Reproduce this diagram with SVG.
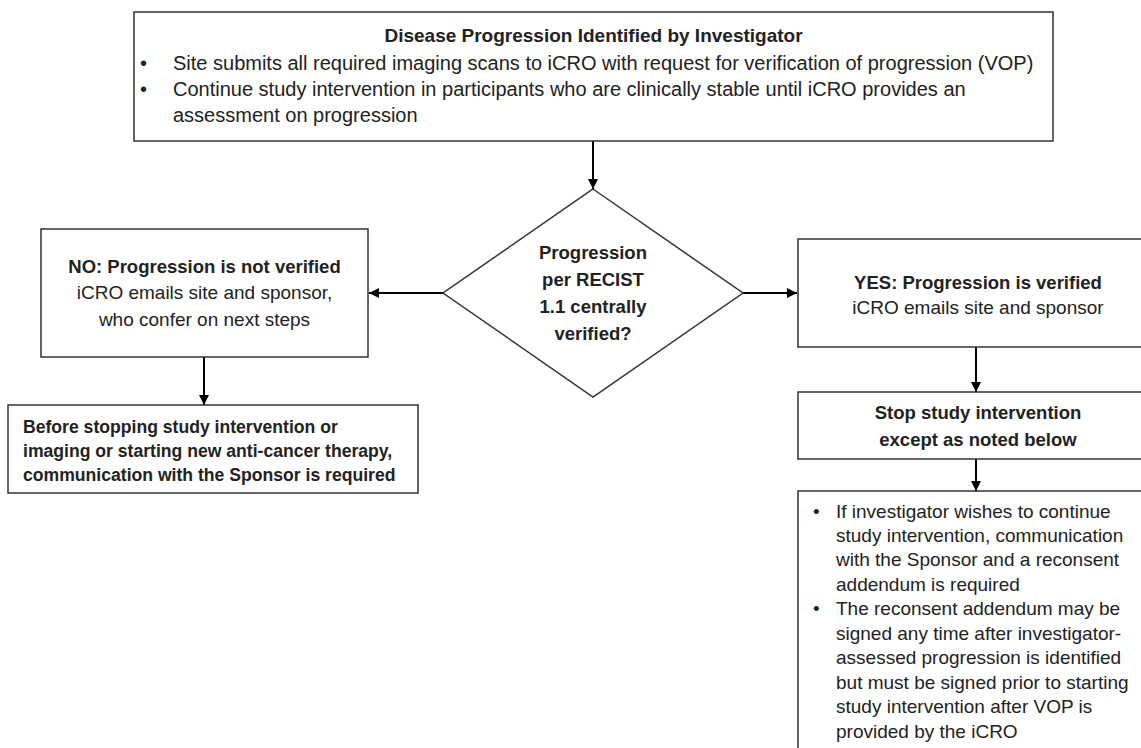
<svg xmlns="http://www.w3.org/2000/svg" width="1141" height="748" viewBox="0 0 1141 748">
<style>
.box{fill:#fff;stroke:#333;stroke-width:1.5}
.t{font-family:"Liberation Sans",Arial,sans-serif;font-size:19px;fill:#222}
.b{font-weight:bold;font-size:18.5px}
.top{font-size:20px}
.sm{font-size:17.6px}
.c{text-anchor:middle}
.con{stroke:#000;stroke-width:2;fill:none}
</style>
<defs>
<marker id="ah" markerUnits="userSpaceOnUse" markerWidth="10" markerHeight="10" refX="10" refY="5" orient="auto">
<path d="M0,0 L10,5 L0,10 z" fill="#000"/>
</marker>
</defs>
<rect width="1141" height="748" fill="#fff"/>
<g id="connectors">
<line class="con" x1="593" y1="141" x2="593" y2="189" marker-end="url(#ah)"/>
<line class="con" x1="443" y1="293" x2="369" y2="293" marker-end="url(#ah)"/>
<line class="con" x1="743" y1="293" x2="797" y2="293" marker-end="url(#ah)"/>
<line class="con" x1="204" y1="357" x2="204" y2="405" marker-end="url(#ah)"/>
<line class="con" x1="976" y1="347" x2="976" y2="392" marker-end="url(#ah)"/>
<line class="con" x1="976" y1="459" x2="976" y2="491" marker-end="url(#ah)"/>
</g>
<g id="start">
<rect class="box" x="134" y="12" width="919" height="129"/>
<text class="t b c" x="593.5" y="42" style="font-size:19px">Disease Progression Identified by Investigator</text>
<text class="t top" x="140" y="70">•</text>
<text class="t top" x="173" y="70">Site submits all required imaging scans to iCRO with request for verification of progression (VOP)</text>
<text class="t top" x="140" y="96">•</text>
<text class="t top" x="173" y="96">Continue study intervention in participants who are clinically stable until iCRO provides an</text>
<text class="t top" x="173" y="122">assessment on progression</text>
</g>
<g id="decision">
<polygon class="box" points="593,189 743,293 593,397 443,293"/>
<text class="t b c" x="593" y="259">Progression</text>
<text class="t b c" x="593" y="286">per RECIST</text>
<text class="t b c" x="593" y="313">1.1 centrally</text>
<text class="t b c" x="593" y="340">verified?</text>
</g>
<g id="no">
<rect class="box" x="41" y="229" width="327" height="128"/>
<text class="t b c" x="204.5" y="273">NO: Progression is not verified</text>
<text class="t c" x="204.5" y="299">iCRO emails site and sponsor,</text>
<text class="t c" x="204.5" y="326">who confer on next steps</text>
</g>
<g id="no-next">
<rect class="box" x="8" y="405" width="410" height="88"/>
<text class="t b sm" x="23" y="433">Before stopping study intervention or</text>
<text class="t b sm" x="23" y="457">imaging or starting new anti-cancer therapy,</text>
<text class="t b sm" x="23" y="481">communication with the Sponsor is required</text>
</g>
<g id="yes">
<rect class="box" x="798" y="239" width="360" height="108"/>
<text class="t b c" x="978" y="289">YES: Progression is verified</text>
<text class="t c" x="978" y="314">iCRO emails site and sponsor</text>
</g>
<g id="stop">
<rect class="box" x="798" y="392" width="360" height="67"/>
<text class="t b c" x="978" y="419">Stop study intervention</text>
<text class="t b c" x="978" y="446">except as noted below</text>
</g>
<g id="notes">
<rect class="box" x="798" y="491" width="360" height="270"/>
<text class="t" x="813" y="518">•</text>
<text class="t" x="836" y="518">If investigator wishes to continue</text>
<text class="t" x="836" y="542">study intervention, communication</text>
<text class="t" x="836" y="566">with the Sponsor and a reconsent</text>
<text class="t" x="836" y="591">addendum is required</text>
<text class="t" x="813" y="615">•</text>
<text class="t" x="836" y="615">The reconsent addendum may be</text>
<text class="t" x="836" y="640">signed any time after investigator-</text>
<text class="t" x="836" y="664">assessed progression is identified</text>
<text class="t" x="836" y="689">but must be signed prior to starting</text>
<text class="t" x="836" y="713">study intervention after VOP is</text>
<text class="t" x="836" y="738">provided by the iCRO</text>
</g>
</svg>
